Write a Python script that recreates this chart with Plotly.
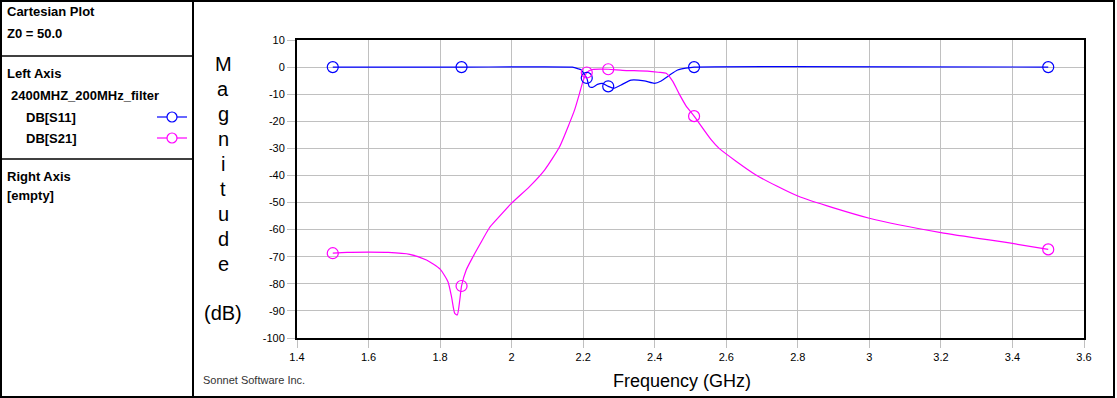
import plotly.graph_objects as go

# ---------------- data ----------------
s11_freq = [1.5, 1.86, 2.17, 2.176, 2.185, 2.194, 2.2, 2.21, 2.217, 2.226, 2.24, 2.254,
            2.27, 2.287, 2.306, 2.334, 2.371, 2.399, 2.418, 2.442, 2.464, 2.487, 2.51, 3.5]
s11_db = [0, 0, 0, -0.2, -0.6, -1.0, -2.0, -4.0, -7.2, -7.5, -6.4, -6.0,
          -7.1, -7.8, -6.6, -4.8, -5.1, -6.0, -5.1, -2.9, -1.1, -0.4, 0, 0]

s21_freq = [1.5, 1.54, 1.6, 1.655, 1.715, 1.762, 1.8, 1.822, 1.832, 1.841, 1.848, 1.855,
            1.86, 1.873, 1.892, 1.911, 1.938, 1.957, 2.0, 2.05, 2.092, 2.134, 2.162, 2.176,
            2.19, 2.2, 2.21, 2.226, 2.27, 2.31, 2.38, 2.41, 2.432, 2.45, 2.468, 2.487,
            2.51, 2.557, 2.58, 2.683, 2.8, 3.0, 3.2, 3.4, 3.5]
s21_db = [-68.7, -68.4, -68.3, -68.4, -69.1, -71.2, -74.6, -79.2, -84.8, -90.9, -91.5, -86.0,
          -80.8, -74.9, -70.0, -65.5, -59.3, -56.4, -50.2, -44.1, -38.0, -29.4, -20.6, -15.8,
          -9.6, -5.0, -2.0, -0.9, -0.8, -1.2, -1.5, -1.9, -2.3, -5.2, -9.8, -14.2,
          -18.1, -26.7, -30.0, -39.8, -47.6, -55.8, -61.1, -65.1, -67.3]

marker_freq = [1.5, 1.86, 2.21, 2.27, 2.51, 3.5]
s11_marker_db = [0, 0, -4.0, -7.1, 0, 0]
s21_marker_db = [-68.7, -80.8, -2.0, -0.8, -18.1, -67.3]

x_ticks = [1.4, 1.6, 1.8, 2.0, 2.2, 2.4, 2.6, 2.8, 3.0, 3.2, 3.4, 3.6]
x_tick_labels = ["1.4", "1.6", "1.8", "2", "2.2", "2.4", "2.6", "2.8", "3", "3.2", "3.4", "3.6"]
y_ticks = [10, 0, -10, -20, -30, -40, -50, -60, -70, -80, -90, -100]
y_tick_labels = ["10", "0", "-10", "-20", "-30", "-40", "-50", "-60", "-70", "-80", "-90", "-100"]

BLUE = "#0000ff"
MAGENTA = "#ff00ff"
W, H = 1117, 398
L, R, T, B = 297, 1084, 40, 338   # plot area in pixels


def px(x):
    return (x - L) / (R - L)


def py(y):
    return (B - y) / (B - T)


fig = go.Figure()
fig.add_trace(go.Scatter(x=s11_freq, y=s11_db, mode="lines",
                         line=dict(color=BLUE, width=1.2, shape="spline", smoothing=0.5),
                         showlegend=False))
fig.add_trace(go.Scatter(x=s21_freq, y=s21_db, mode="lines",
                         line=dict(color=MAGENTA, width=1.2, shape="spline", smoothing=0.6),
                         showlegend=False))
fig.add_trace(go.Scatter(x=marker_freq, y=s11_marker_db, mode="markers",
                         marker=dict(symbol="circle", size=11, color="rgba(255,255,255,0)",
                                     line=dict(color=BLUE, width=1.2)), showlegend=False))
fig.add_trace(go.Scatter(x=marker_freq, y=s21_marker_db, mode="markers",
                         marker=dict(symbol="circle", size=11, color="rgba(255,255,255,0)",
                                     line=dict(color=MAGENTA, width=1.2)), showlegend=False))

FONT = "Liberation Sans, Arial, sans-serif"

shapes = []
# outer frame
shapes.append(dict(type="rect", xref="paper", yref="paper", x0=px(1), x1=px(1114), y0=py(1), y1=py(397),
                   line=dict(color="black", width=2), layer="above"))
# left panel separators
shapes.append(dict(type="line", xref="paper", yref="paper", x0=px(193), x1=px(193), y0=py(1), y1=py(397),
                   line=dict(color="black", width=2)))
for yy in (56, 159):
    shapes.append(dict(type="line", xref="paper", yref="paper", x0=px(1), x1=px(193), y0=py(yy), y1=py(yy),
                       line=dict(color="black", width=1.5)))
# legend glyphs
for yy, col in ((117, BLUE), (138, MAGENTA)):
    shapes.append(dict(type="line", xref="paper", yref="paper", x0=px(157), x1=px(187), y0=py(yy), y1=py(yy),
                       line=dict(color=col, width=1.2)))
    shapes.append(dict(type="circle", xref="paper", yref="paper", x0=px(167), x1=px(177),
                       y0=py(yy + 5), y1=py(yy - 5), fillcolor="white",
                       line=dict(color=col, width=1.2)))

annotations = []


def text(s, x, y, size=12, bold=True, anchor="left", color="black"):
    annotations.append(dict(text=("<b>%s</b>" % s) if bold else s, x=px(x), y=py(y),
                            xref="paper", yref="paper", xanchor=anchor, yanchor="middle",
                            showarrow=False, font=dict(family=FONT, size=size, color=color)))


text("Cartesian Plot", 5, 11, size=13)
text("Z0 = 50.0", 5, 33, size=13)
text("Left Axis", 5, 74, size=13)
text("2400MHZ_200MHz_filter", 9, 95, size=13)
text("DB[S11]", 24, 117, size=13)
text("DB[S21]", 24, 138, size=13)
text("Right Axis", 5, 177, size=13)
text("[empty]", 5, 195, size=13)

# vertical y-axis title
for i, ch in enumerate("Magnitude"):
    text(ch, 223, 64 + i * 25.0, size=20, bold=False, anchor="center")
text("(dB)", 223, 313, size=20, bold=False, anchor="center")

text("Frequency (GHz)", 682, 381, size=18, bold=False, anchor="center")
text("Sonnet Software Inc.", 201, 380, size=11, bold=False, color="#333333")

fig.update_layout(
    width=W, height=H,
    margin=dict(l=L, r=W - R, t=T, b=H - B, pad=0),
    paper_bgcolor="white", plot_bgcolor="white",
    shapes=shapes, annotations=annotations,
    font=dict(family=FONT, size=11, color="black"),
    xaxis=dict(range=[1.4, 3.6], tickvals=x_ticks, ticktext=x_tick_labels,
               showgrid=True, gridcolor="#c0c0c0", gridwidth=1, zeroline=False,
               showline=True, linecolor="black", linewidth=2, mirror=True,
               ticks="outside", ticklen=8, tickcolor="#c0c0c0", tickwidth=1,
               tickfont=dict(family=FONT, size=11, color="black")),
    yaxis=dict(range=[-100, 10], tickvals=y_ticks, ticktext=y_tick_labels,
               showgrid=True, gridcolor="#c0c0c0", gridwidth=1, zeroline=False,
               showline=True, linecolor="black", linewidth=2, mirror=True,
               ticks="outside", ticklen=8, tickcolor="#c0c0c0", tickwidth=1,
               tickfont=dict(family=FONT, size=11, color="black")),
)

fig.write_html("out.html", config={"displayModeBar": False},
               post_script="document.body.style.margin='0';document.body.style.overflow='hidden';")
